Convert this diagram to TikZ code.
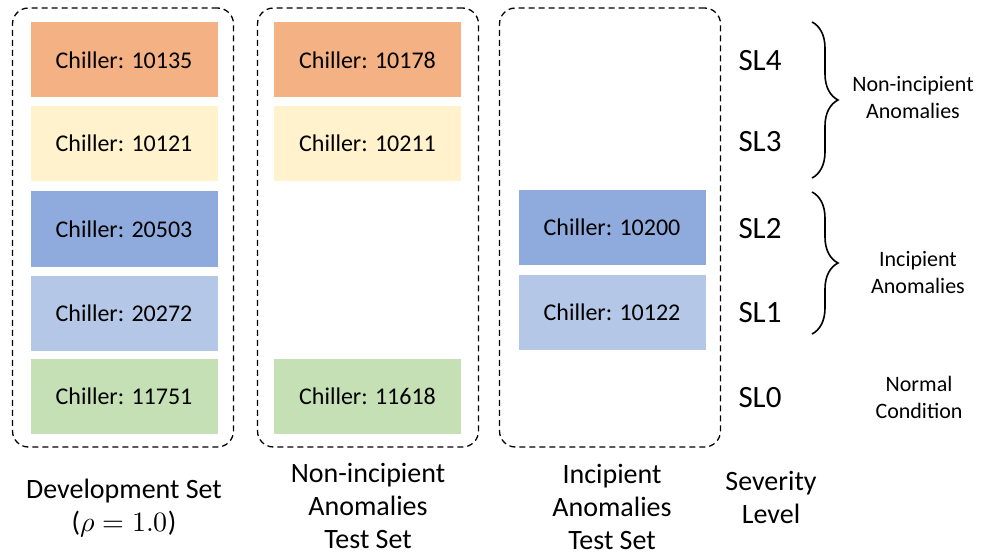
\documentclass[tikz,border=0pt]{standalone}
\usepackage{fontspec}
\usepackage{unicode-math}
\setmainfont{Carlito}
\setmathfont{Latin Modern Math}
\usetikzlibrary{positioning,decorations.pathreplacing}
\definecolor{slfour}{HTML}{F4B183}
\definecolor{slthree}{HTML}{FFF2CC}
\definecolor{sltwo}{HTML}{8FAADC}
\definecolor{slone}{HTML}{B4C7E7}
\definecolor{slzero}{HTML}{C5E0B4}

\begin{document}
\begin{tikzpicture}[x=1pt,y=-1pt,
  setbox/.style={draw,line width=1.3pt,dash pattern=on 6pt off 4pt,rounded corners=16pt,
    minimum width=221pt,minimum height=439pt,inner sep=0pt},
  chiller/.style={minimum width=187pt,minimum height=75pt,inner sep=0pt,
    font=\fontsize{24}{29}\selectfont},
  setlabel/.style={align=center,inner sep=0pt,font=\fontsize{28}{33}\selectfont},
  level/.style={inner sep=0pt,font=\fontsize{31}{36}\selectfont},
  note/.style={align=center,inner sep=0pt,font=\fontsize{22}{27}\selectfont},
  curly/.style={line width=1.6pt,decorate,decoration={brace,amplitude=26pt}}]
  \useasboundingbox (0,0) rectangle (988,556);
  \node[setbox] (dev) at (123,227.5) {};
  \node[setbox] (nis) at (368,227.5) {};
  \node[setbox] (ins) at (610,227.5) {};
  \node[chiller,fill=slfour] (d4) at (124,60) {Chiller: 10135};
  \node[chiller,fill=slthree] (d3) at (124,143.5) {Chiller: 10121};
  \node[chiller,fill=sltwo] (d2) at (124,229) {Chiller: 20503};
  \node[chiller,fill=slone] (d1) at (124,313.5) {Chiller: 20272};
  \node[chiller,fill=slzero] (d0) at (124,396.5) {Chiller: 11751};
  \node[chiller,fill=slfour] (n4) at (367.5,60) {Chiller: 10178};
  \node[chiller,fill=slthree] (n3) at (367.5,143.5) {Chiller: 10211};
  \node[chiller,fill=slzero] (n0) at (367.5,396.5) {Chiller: 11618};
  \node[chiller,fill=sltwo] (i2) at (612,227.5) {Chiller: 10200};
  \node[chiller,fill=slone] (i1) at (612,312.5) {Chiller: 10122};
  \node[level] (sl4) at (760,61) {SL4};
  \node[level] (sl3) at (760,142) {SL3};
  \node[level] (sl2) at (760,229) {SL2};
  \node[level] (sl1) at (760,313) {SL1};
  \node[level] (sl0) at (760,398) {SL0};
  \coordinate (nitop) at (812,22);
  \coordinate (nibot) at (812,178);
  \coordinate (intop) at (812,192);
  \coordinate (inbot) at (812,334);
  \draw[curly] (nitop) -- (nibot);
  \draw[curly] (intop) -- (inbot);
  \node[note] (ninote) at (913,98) {Non-incipient\\Anomalies};
  \node[note] (innote) at (918,273) {Incipient\\Anomalies};
  \node[note] (nonote) at (919,397) {Normal\\Condition};
  \node[setlabel] (devlab) at (124,508) {Development Set\\($\rho = 1.0$)};
  \node[setlabel] (nislab) at (368,506) {Non-incipient\\Anomalies\\Test Set};
  \node[setlabel] (inslab) at (612,507) {Incipient\\Anomalies\\Test Set};
  \node[setlabel] (sevlab) at (771,497) {Severity\\Level};
\end{tikzpicture}
\end{document}
